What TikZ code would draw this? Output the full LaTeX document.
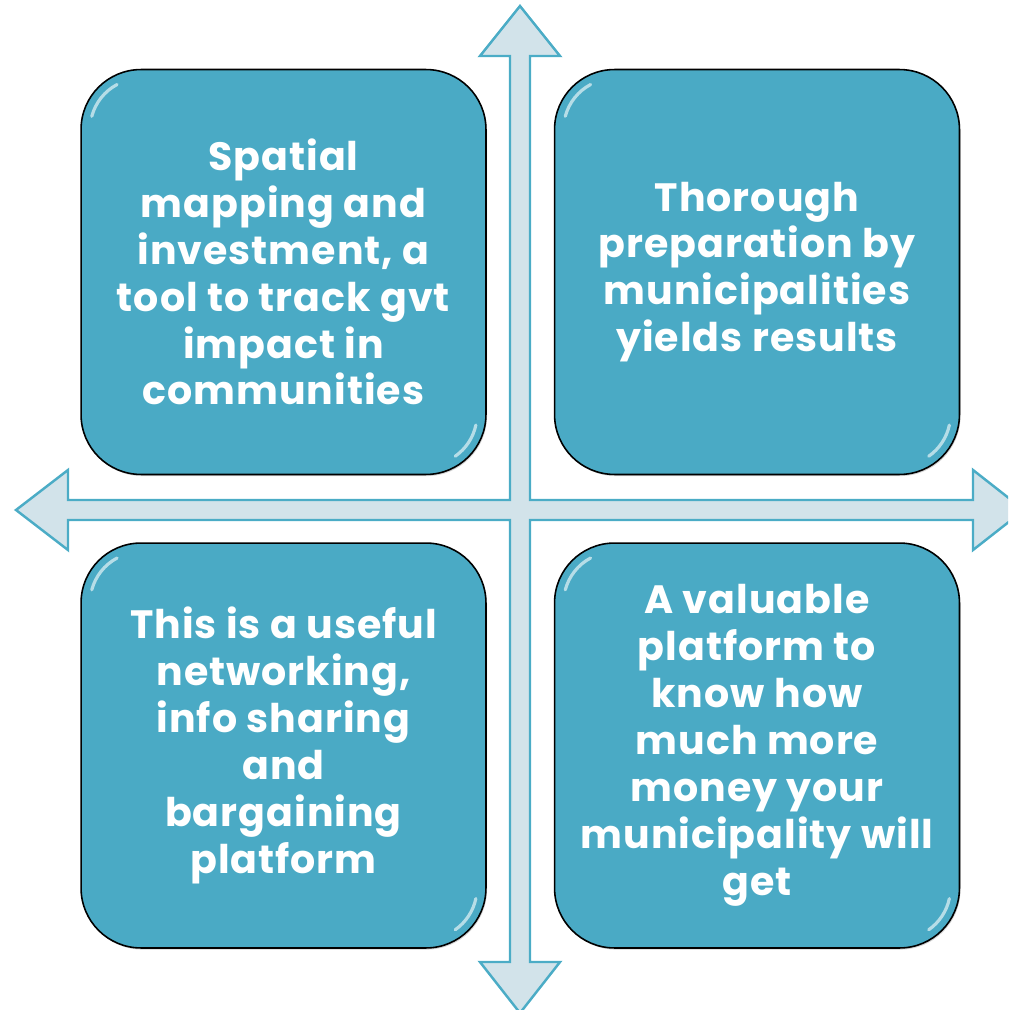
\documentclass[tikz,border=0pt]{standalone}
\usepackage{fontspec}
\setmainfont{Poppins}[LetterSpace=2.5]
\definecolor{boxteal}{RGB}{74,170,197}
\definecolor{crossfill}{RGB}{210,227,234}
\definecolor{crossline}{RGB}{75,172,198}
\usetikzlibrary{shadows, calc}

\begin{document}
\begin{tikzpicture}[x=0.02cm, y=-0.02cm,
	quadbox/.style={rectangle, rounded corners=1.2cm, draw=black, line width=0.9pt, fill=boxteal,
		minimum width=8.1cm, minimum height=8.1cm, align=center, text=white,
		font=\fontsize{22.5}{26.7}\selectfont\bfseries,
		drop shadow={shadow xshift=0.6pt, shadow yshift=-0.9pt, opacity=0.35},
		path picture={
			\draw[white, opacity=0.6, line width=1.8pt, line cap=round]
				($(path picture bounding box.north west)+(1.2cm,-1.2cm)$) ++(165:1.02cm) arc[start angle=165, end angle=118, radius=1.02cm];
			\draw[white, opacity=0.6, line width=1.8pt, line cap=round]
				($(path picture bounding box.south east)+(-1.2cm,1.2cm)$) ++(-12:1.02cm) arc[start angle=-12, end angle=-55, radius=1.02cm];
		}}]
	\clip (0,0) rectangle (1008,1010);
	% cross arrow behind the boxes
	\draw[crossline, fill=crossfill, line width=1.4pt, line join=miter]
		(530,500) -- (530,56) -- (560,56) -- (520,6) -- (480,56) -- (510,56) -- (510,500)
		-- (68,500) -- (68,470) -- (16,510) -- (68,550) -- (68,520) -- (510,520)
		-- (510,962) -- (480,962) -- (520,1013) -- (560,962) -- (530,962) -- (530,520)
		-- (973,520) -- (973,550) -- (1024,510) -- (973,470) -- (973,500) -- cycle;
	\node[quadbox] (topleft) at (283.5,272) {Spatial\\mapping and\\investment, a\\tool to track gvt\\impact in\\communities};
	\node[quadbox] (topright) at (757,272) {Thorough\\preparation by\\municipalities\\yields results};
	\node[quadbox] (botleft) at (283.5,745.5) {This is a useful\\networking,\\info sharing\\and\\bargaining\\platform};
	\node[quadbox] (botright) at (757,745.5) {A valuable\\platform to\\know how\\much more\\money your\\municipality will\\get};
\end{tikzpicture}
\end{document}
